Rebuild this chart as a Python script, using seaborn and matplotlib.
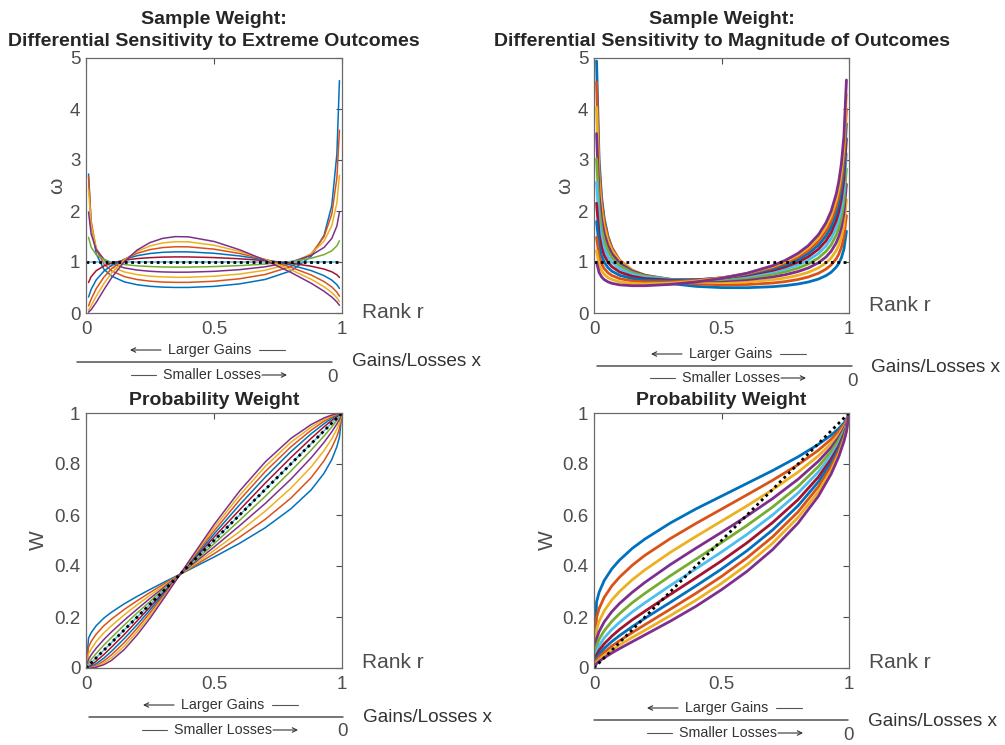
import matplotlib
matplotlib.use("Agg")
import matplotlib.pyplot as plt
from matplotlib.lines import Line2D
from matplotlib.patches import FancyArrowPatch
import pandas as pd
import seaborn as sns

# ---------------- data ----------------
curve_labels = ["0.5", "0.6", "0.7", "0.8", "0.9", "1.0", "1.1", "1.2", "1.3", "1.4", "1.5"]

# left column: differential sensitivity to extreme outcomes
rank_W_ext = [0, 0.01, 0.02, 0.04, 0.07, 0.1, 0.15, 0.2, 0.25, 0.3, 0.35, 0.4, 0.5, 0.6, 0.7, 0.8, 0.88, 0.93, 0.96, 0.98, 0.99, 1]
rank_omega_ext = [0.01, 0.02, 0.04, 0.07, 0.1, 0.15, 0.2, 0.25, 0.3, 0.35, 0.4, 0.5, 0.6, 0.7, 0.8, 0.88, 0.93, 0.96, 0.98, 0.99]

omega_ext_05 = [2.725, 1.749, 1.158, 0.858, 0.723, 0.610, 0.554, 0.523, 0.507, 0.501, 0.501, 0.522, 0.571, 0.658, 0.825, 1.112, 1.525, 2.106, 3.114, 4.557]
omega_ext_06 = [2.674, 1.801, 1.251, 0.960, 0.826, 0.713, 0.656, 0.624, 0.607, 0.601, 0.601, 0.623, 0.671, 0.755, 0.910, 1.160, 1.498, 1.940, 2.648, 3.583]
omega_ext_07 = [2.406, 1.730, 1.277, 1.026, 0.907, 0.805, 0.752, 0.722, 0.707, 0.700, 0.701, 0.721, 0.764, 0.838, 0.967, 1.164, 1.410, 1.711, 2.158, 2.701]
omega_ext_08 = [1.981, 1.550, 1.239, 1.055, 0.965, 0.884, 0.842, 0.818, 0.805, 0.800, 0.801, 0.817, 0.850, 0.906, 0.999, 1.131, 1.286, 1.462, 1.705, 1.977]
omega_ext_09 = [1.483, 1.293, 1.142, 1.046, 0.996, 0.950, 0.925, 0.911, 0.903, 0.900, 0.901, 0.910, 0.929, 0.960, 1.009, 1.074, 1.145, 1.220, 1.317, 1.417]
omega_ext_10 = [1.0, 1.0, 1.0, 1.0, 1.0, 1.0, 1.0, 1.0, 1.0, 1.0, 1.0, 1.0, 1.0, 1.0, 1.0, 1.0, 1.0, 1.0, 1.0, 1.0]
omega_ext_11 = [0.599, 0.712, 0.830, 0.923, 0.979, 1.035, 1.067, 1.085, 1.096, 1.100, 1.099, 1.087, 1.063, 1.028, 0.977, 0.917, 0.861, 0.808, 0.750, 0.697]
omega_ext_12 = [0.314, 0.462, 0.650, 0.821, 0.934, 1.053, 1.124, 1.167, 1.190, 1.199, 1.198, 1.171, 1.119, 1.044, 0.942, 0.830, 0.732, 0.645, 0.556, 0.481]
omega_ext_13 = [0.141, 0.271, 0.478, 0.704, 0.868, 1.054, 1.171, 1.243, 1.283, 1.299, 1.297, 1.252, 1.167, 1.049, 0.899, 0.744, 0.616, 0.511, 0.409, 0.330]
omega_ext_14 = [0.053, 0.141, 0.328, 0.579, 0.785, 1.040, 1.209, 1.315, 1.374, 1.398, 1.395, 1.329, 1.207, 1.046, 0.850, 0.661, 0.514, 0.401, 0.299, 0.224]
omega_ext_15 = [0.016, 0.065, 0.209, 0.457, 0.691, 1.010, 1.235, 1.381, 1.464, 1.498, 1.493, 1.403, 1.240, 1.034, 0.797, 0.582, 0.426, 0.313, 0.217, 0.152]

W_ext_05 = [0, 0.117, 0.138, 0.166, 0.196, 0.219, 0.252, 0.281, 0.308, 0.334, 0.359, 0.384, 0.435, 0.489, 0.550, 0.624, 0.699, 0.764, 0.817, 0.868, 0.905, 1]
W_ext_06 = [0, 0.082, 0.104, 0.133, 0.166, 0.192, 0.230, 0.264, 0.296, 0.327, 0.357, 0.387, 0.448, 0.513, 0.583, 0.666, 0.747, 0.813, 0.864, 0.908, 0.939, 1]
W_ext_07 = [0, 0.054, 0.074, 0.104, 0.138, 0.166, 0.209, 0.248, 0.285, 0.320, 0.355, 0.390, 0.461, 0.535, 0.615, 0.705, 0.789, 0.853, 0.899, 0.937, 0.961, 1]
W_ext_08 = [0, 0.034, 0.051, 0.078, 0.112, 0.142, 0.188, 0.231, 0.273, 0.313, 0.354, 0.394, 0.474, 0.558, 0.645, 0.740, 0.825, 0.885, 0.926, 0.957, 0.975, 1]
W_ext_09 = [0, 0.019, 0.033, 0.057, 0.090, 0.120, 0.169, 0.216, 0.261, 0.307, 0.352, 0.397, 0.487, 0.579, 0.673, 0.772, 0.855, 0.910, 0.945, 0.971, 0.984, 1]
W_ext_10 = [0, 0.01, 0.02, 0.04, 0.07, 0.1, 0.15, 0.2, 0.25, 0.3, 0.35, 0.4, 0.5, 0.6, 0.7, 0.8, 0.88, 0.93, 0.96, 0.98, 0.99, 1]
W_ext_11 = [0, 0.005, 0.011, 0.027, 0.053, 0.082, 0.132, 0.185, 0.239, 0.293, 0.348, 0.403, 0.513, 0.620, 0.725, 0.825, 0.901, 0.946, 0.971, 0.986, 0.994, 1]
W_ext_12 = [0, 0.002, 0.006, 0.017, 0.039, 0.066, 0.116, 0.170, 0.228, 0.287, 0.346, 0.406, 0.525, 0.640, 0.748, 0.848, 0.919, 0.958, 0.979, 0.991, 0.996, 1]
W_ext_13 = [0, 0.001, 0.003, 0.010, 0.028, 0.052, 0.100, 0.156, 0.217, 0.280, 0.345, 0.410, 0.537, 0.659, 0.770, 0.867, 0.933, 0.968, 0.984, 0.994, 0.997, 1]
W_ext_14 = [0, 0.000, 0.001, 0.006, 0.020, 0.040, 0.086, 0.143, 0.206, 0.273, 0.343, 0.413, 0.550, 0.677, 0.790, 0.885, 0.945, 0.975, 0.989, 0.996, 0.998, 1]
W_ext_15 = [0, 0.000, 0.000, 0.003, 0.013, 0.030, 0.073, 0.130, 0.195, 0.267, 0.341, 0.416, 0.562, 0.694, 0.808, 0.900, 0.955, 0.981, 0.992, 0.997, 0.999, 1]

# right column: differential sensitivity to magnitude of outcomes
rank_W_mag = [0, 0.01, 0.02, 0.04, 0.07, 0.1, 0.15, 0.2, 0.3, 0.4, 0.5, 0.6, 0.7, 0.8, 0.88, 0.93, 0.96, 0.98, 0.99, 1]
rank_omega_mag = [0.01, 0.02, 0.03, 0.04, 0.055, 0.07, 0.1, 0.15, 0.2, 0.3, 0.4, 0.5, 0.6, 0.7, 0.75, 0.8, 0.84, 0.88, 0.91, 0.93, 0.95, 0.96, 0.97, 0.98, 0.99]

omega_mag_05 = [4.941, 2.996, 2.255, 1.853, 1.499, 1.283, 1.027, 0.811, 0.696, 0.578, 0.522, 0.498, 0.496, 0.516, 0.537, 0.569, 0.607, 0.665, 0.733, 0.799, 0.900, 0.974, 1.080, 1.249, 1.602]
omega_mag_06 = [4.527, 2.820, 2.159, 1.796, 1.473, 1.274, 1.038, 0.837, 0.729, 0.619, 0.570, 0.553, 0.558, 0.588, 0.616, 0.657, 0.706, 0.778, 0.861, 0.942, 1.064, 1.155, 1.283, 1.487, 1.912]
omega_mag_07 = [4.032, 2.581, 2.009, 1.692, 1.407, 1.231, 1.020, 0.839, 0.742, 0.645, 0.605, 0.596, 0.610, 0.652, 0.687, 0.738, 0.797, 0.884, 0.983, 1.079, 1.224, 1.330, 1.481, 1.721, 2.220]
omega_mag_08 = [3.518, 2.314, 1.832, 1.561, 1.317, 1.164, 0.981, 0.824, 0.740, 0.659, 0.630, 0.630, 0.654, 0.708, 0.751, 0.813, 0.882, 0.984, 1.099, 1.211, 1.378, 1.501, 1.675, 1.952, 2.524]
omega_mag_09 = [3.022, 2.042, 1.644, 1.418, 1.213, 1.085, 0.929, 0.796, 0.727, 0.662, 0.644, 0.655, 0.690, 0.756, 0.808, 0.880, 0.961, 1.078, 1.210, 1.338, 1.528, 1.668, 1.865, 2.178, 2.826]
omega_mag_10 = [2.564, 1.780, 1.457, 1.272, 1.104, 0.998, 0.870, 0.760, 0.704, 0.657, 0.651, 0.672, 0.718, 0.799, 0.859, 0.942, 1.034, 1.167, 1.316, 1.460, 1.674, 1.830, 2.051, 2.401, 3.124]
omega_mag_11 = [2.153, 1.536, 1.278, 1.130, 0.994, 0.909, 0.805, 0.719, 0.676, 0.646, 0.652, 0.683, 0.741, 0.835, 0.904, 0.998, 1.102, 1.251, 1.416, 1.577, 1.815, 1.988, 2.233, 2.620, 3.419]
omega_mag_12 = [1.793, 1.315, 1.113, 0.996, 0.888, 0.821, 0.740, 0.674, 0.644, 0.629, 0.647, 0.689, 0.757, 0.865, 0.943, 1.048, 1.164, 1.329, 1.512, 1.689, 1.951, 2.142, 2.411, 2.836, 3.711]
omega_mag_13 = [1.483, 1.117, 0.961, 0.871, 0.788, 0.736, 0.675, 0.627, 0.609, 0.609, 0.638, 0.690, 0.769, 0.890, 0.977, 1.094, 1.221, 1.402, 1.603, 1.797, 2.083, 2.292, 2.585, 3.048, 4.000]
omega_mag_14 = [1.219, 0.944, 0.826, 0.758, 0.695, 0.656, 0.612, 0.581, 0.572, 0.586, 0.625, 0.687, 0.776, 0.911, 1.007, 1.134, 1.273, 1.471, 1.690, 1.900, 2.211, 2.437, 2.755, 3.257, 4.286]
omega_mag_15 = [0.998, 0.794, 0.706, 0.655, 0.610, 0.582, 0.552, 0.535, 0.535, 0.561, 0.609, 0.680, 0.780, 0.927, 1.032, 1.170, 1.321, 1.535, 1.772, 1.999, 2.335, 2.579, 2.922, 3.462, 4.569]

W_mag_05 = [0, 0.259, 0.297, 0.343, 0.389, 0.423, 0.469, 0.506, 0.569, 0.624, 0.674, 0.724, 0.774, 0.828, 0.877, 0.913, 0.939, 0.961, 0.975, 1]
W_mag_06 = [0, 0.198, 0.233, 0.277, 0.322, 0.356, 0.403, 0.442, 0.508, 0.567, 0.623, 0.679, 0.736, 0.797, 0.854, 0.897, 0.928, 0.954, 0.970, 1]
W_mag_07 = [0, 0.151, 0.183, 0.224, 0.267, 0.300, 0.346, 0.385, 0.454, 0.516, 0.576, 0.636, 0.699, 0.768, 0.832, 0.881, 0.916, 0.946, 0.965, 1]
W_mag_08 = [0, 0.115, 0.143, 0.181, 0.221, 0.253, 0.297, 0.336, 0.406, 0.470, 0.532, 0.596, 0.664, 0.740, 0.811, 0.865, 0.905, 0.939, 0.961, 1]
W_mag_09 = [0, 0.088, 0.113, 0.146, 0.183, 0.213, 0.256, 0.293, 0.362, 0.427, 0.492, 0.559, 0.631, 0.712, 0.790, 0.849, 0.894, 0.931, 0.956, 1]
W_mag_10 = [0, 0.067, 0.088, 0.118, 0.151, 0.179, 0.220, 0.256, 0.324, 0.389, 0.455, 0.524, 0.600, 0.686, 0.769, 0.834, 0.882, 0.924, 0.951, 1]
W_mag_11 = [0, 0.051, 0.069, 0.095, 0.125, 0.151, 0.189, 0.223, 0.289, 0.354, 0.420, 0.491, 0.570, 0.660, 0.749, 0.819, 0.871, 0.917, 0.946, 1]
W_mag_12 = [0, 0.039, 0.054, 0.077, 0.104, 0.127, 0.162, 0.195, 0.258, 0.322, 0.388, 0.460, 0.541, 0.636, 0.730, 0.804, 0.861, 0.909, 0.941, 1]
W_mag_13 = [0, 0.030, 0.043, 0.062, 0.086, 0.107, 0.139, 0.170, 0.231, 0.293, 0.359, 0.432, 0.514, 0.612, 0.711, 0.790, 0.850, 0.902, 0.937, 1]
W_mag_14 = [0, 0.023, 0.033, 0.050, 0.071, 0.090, 0.120, 0.148, 0.206, 0.266, 0.332, 0.405, 0.489, 0.590, 0.692, 0.775, 0.839, 0.895, 0.932, 1]
W_mag_15 = [0, 0.017, 0.026, 0.040, 0.059, 0.076, 0.103, 0.130, 0.184, 0.242, 0.307, 0.379, 0.464, 0.568, 0.674, 0.761, 0.829, 0.888, 0.927, 1]

# reference (dotted) lines
ref_rank = [0, 1]
ref_omega = [1, 1]
ref_W = [0, 1]

x_ticks = [0, 0.5, 1]
x_tick_labels = ["0", "0.5", "1"]
omega_ticks = [0, 1, 2, 3, 4, 5]
omega_tick_labels = ["0", "1", "2", "3", "4", "5"]
W_ticks = [0, 0.2, 0.4, 0.6, 0.8, 1]
W_tick_labels = ["0", "0.2", "0.4", "0.6", "0.8", "1"]

titles_top = ["Sample Weight:\nDifferential Sensitivity to Extreme Outcomes",
              "Sample Weight:\nDifferential Sensitivity to Magnitude of Outcomes"]
title_bottom = "Probability Weight"

# MATLAB default colour order (repeats)
palette = ["#0072BD", "#D95319", "#EDB120", "#7E2F8E", "#77AC30", "#4DBEEE",
           "#A2142F", "#0072BD", "#D95319", "#EDB120", "#7E2F8E"]

# ---------------- helpers ----------------
def long_frame(ranks, series):
    rows = []
    for lab, vals in zip(curve_labels, series):
        for r, v in zip(ranks, vals):
            rows.append({"rank": r, "value": v, "curve": lab})
    return pd.DataFrame(rows)

omega_ext = [omega_ext_05, omega_ext_06, omega_ext_07, omega_ext_08, omega_ext_09, omega_ext_10,
             omega_ext_11, omega_ext_12, omega_ext_13, omega_ext_14, omega_ext_15]
W_ext = [W_ext_05, W_ext_06, W_ext_07, W_ext_08, W_ext_09, W_ext_10,
         W_ext_11, W_ext_12, W_ext_13, W_ext_14, W_ext_15]
omega_mag = [omega_mag_05, omega_mag_06, omega_mag_07, omega_mag_08, omega_mag_09, omega_mag_10,
             omega_mag_11, omega_mag_12, omega_mag_13, omega_mag_14, omega_mag_15]
W_mag = [W_mag_05, W_mag_06, W_mag_07, W_mag_08, W_mag_09, W_mag_10,
         W_mag_11, W_mag_12, W_mag_13, W_mag_14, W_mag_15]

sns.set_style("white")
plt.rcParams["font.family"] = ["Liberation Sans", "DejaVu Sans"]

FW, FH = 1005, 745
fig = plt.figure(figsize=(FW / 100, FH / 100), dpi=100)
fig.patch.set_facecolor("white")

def axes_px(x0, ytop, w, h):
    return fig.add_axes([x0 / FW, 1 - (ytop + h) / FH, w / FW, h / FH])

ax_tl = axes_px(86, 58, 256, 255)
ax_tr = axes_px(594, 58, 255, 255)
ax_bl = axes_px(86, 413, 256, 255)
ax_br = axes_px(594, 413, 255, 255)

TXT = "#4d4d4d"

def draw(ax, ranks, series, lw, ref_y):
    df = long_frame(ranks, series)
    sns.lineplot(data=df, x="rank", y="value", hue="curve", hue_order=curve_labels,
                 palette=palette, legend=False, ax=ax, linewidth=lw,
                 estimator=None, errorbar=None)
    sns.lineplot(x=ref_rank, y=ref_y, color="black", linestyle=(0, (1, 1.3)),
                 linewidth=2.0, ax=ax, estimator=None, errorbar=None)

def style(ax, ymax, yt, ytl, ylab, ylab_x):
    ax.set_xlim(0, 1)
    ax.set_ylim(0, ymax)
    ax.set_xticks(x_ticks)
    ax.set_xticklabels(x_tick_labels)
    ax.set_yticks(yt)
    ax.set_yticklabels(ytl)
    ax.set_xlabel("")
    ax.set_ylabel("")
    ax.tick_params(direction="in", length=4, width=0.8, top=True, right=True,
                   labelsize=13.5, colors=TXT)
    ax.tick_params(axis="x", pad=6)
    ax.tick_params(axis="y", pad=4)
    for s in ax.spines.values():
        s.set_visible(True)
        s.set_color("#6a6a6a")
        s.set_linewidth(0.9)
    ax.text(ylab_x, 0.5, ylab, rotation=90, ha="center", va="center",
            transform=ax.transAxes, fontsize=15, color=TXT)

draw(ax_tl, rank_omega_ext, omega_ext, 1.1, ref_omega)
draw(ax_tr, rank_omega_mag, omega_mag, 2.0, ref_omega)
draw(ax_bl, rank_W_ext, W_ext, 1.1, ref_W)
draw(ax_br, rank_W_mag, W_mag, 2.0, ref_W)

style(ax_tl, 5, omega_ticks, omega_tick_labels, "\u03c9", -0.113)
style(ax_tr, 5, omega_ticks, omega_tick_labels, "\u03c9", -0.114)
style(ax_bl, 1, W_ticks, W_tick_labels, "W", -0.184)
style(ax_br, 1, W_ticks, W_tick_labels, "W", -0.184)

ax_tl.set_title(titles_top[0], fontsize=14, fontweight="bold", linespacing=1.38, pad=9)
ax_tr.set_title(titles_top[1], fontsize=14, fontweight="bold", linespacing=1.38, pad=9)
ax_bl.set_title(title_bottom, fontsize=14, fontweight="bold", pad=6)
ax_br.set_title(title_bottom, fontsize=14, fontweight="bold", pad=6)

# ------------- annotations below each axis (pixel positions) -------------
def fx(x):
    return x / FW

def fy(y):
    return 1 - y / FH

def ftext(x, y, s, **kw):
    fig.text(fx(x), fy(y), s, **kw)

def fline(x1, x2, y, lw=0.8, color="#555555"):
    fig.add_artist(Line2D([fx(x1), fx(x2)], [fy(y), fy(y)], transform=fig.transFigure,
                          lw=lw, color=color))

def farrow(x_from, x_to, y):
    fig.add_artist(FancyArrowPatch((fx(x_from), fy(y)), (fx(x_to), fy(y)),
                                   transform=fig.transFigure, arrowstyle="->",
                                   mutation_scale=8, lw=0.8, color="#333333",
                                   shrinkA=0, shrinkB=0))

panels = [
    dict(rank=(362, 313), lg=(210, 350), line=(77, 332, 362), sl=(212, 375), zero=(332, 377), gl=(352, 362)),
    dict(rank=(869, 306), lg=(731, 354), line=(597, 852, 366), sl=(731, 378), zero=(852, 381), gl=(871, 367)),
    dict(rank=(362, 662), lg=(223, 705), line=(89, 343, 717), sl=(223, 730), zero=(343, 732), gl=(363, 718)),
    dict(rank=(869, 662), lg=(727, 708), line=(594, 848, 720), sl=(728, 733), zero=(848, 736), gl=(868, 722)),
]

for p in panels:
    ftext(p["rank"][0], p["rank"][1], "Rank r", ha="left", va="center", fontsize=15, color=TXT)
    c, y = p["lg"]
    ftext(c, y, "Larger Gains", ha="center", va="center", fontsize=10.3, color="#333333")
    farrow(c - 49, c - 80, y)
    fline(c + 49, c + 75, y)
    x1, x2, yl = p["line"]
    fline(x1, x2, yl, lw=1.1, color="#505050")
    c, y = p["sl"]
    ftext(c, y, "Smaller Losses", ha="center", va="center", fontsize=10.3, color="#333333")
    fline(c - 81, c - 56, y)
    farrow(c + 50, c + 75, y)
    ftext(p["zero"][0], p["zero"][1], "0", ha="center", va="center", fontsize=13.5, color=TXT)
    ftext(p["gl"][0], p["gl"][1], "Gains/Losses x", ha="left", va="center", fontsize=13.7, color="#333333")

fig.savefig("out.png", dpi=100)
